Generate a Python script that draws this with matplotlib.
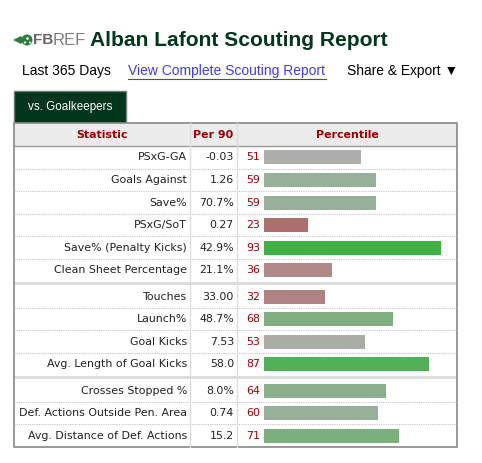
import matplotlib
matplotlib.use("Agg")
import matplotlib.pyplot as plt
from matplotlib.patches import Rectangle, Polygon, Circle

# data
player = "Alban Lafont"
groups = [
    ["PSxG-GA", "Goals Against", "Save%", "PSxG/SoT",
     "Save% (Penalty Kicks)", "Clean Sheet Percentage"],
    ["Touches", "Launch%", "Goal Kicks", "Avg. Length of Goal Kicks"],
    ["Crosses Stopped %", "Def. Actions Outside Pen. Area",
     "Avg. Distance of Def. Actions"],
]
per90 = ["-0.03", "1.26", "70.7%", "0.27", "42.9%", "21.1%",
         "33.00", "48.7%", "7.53", "58.0",
         "8.0%", "0.74", "15.2"]
percentiles = [51, 59, 59, 23, 93, 36,
               32, 68, 53, 87,
               64, 60, 71]
bar_colors = ["#aeafab", "#98b09a", "#98b09a", "#ad6e6e", "#42b045", "#af8a89",
              "#af8381", "#80b082", "#a8aea6", "#52b056",
              "#8caf8c", "#98b099", "#7bb07c"]

W, H = 482, 463
DARK_GREEN = "#00361c"
RED = "#990000"
TXT = "#222222"
FS = 7.9

fig = plt.figure(figsize=(W / 100, H / 100), dpi=100)
ax = fig.add_axes([0, 0, 1, 1])
ax.set_xlim(0, W)
ax.set_ylim(H, 0)
ax.axis("off")

# header: logo + title
ax.add_patch(Polygon([[13, 40], [21, 36], [24, 40], [21, 44]],
                     closed=True, color="#2f7d3c", lw=0))
ax.add_patch(Circle((27, 40), 5.5, color="#2f7d3c", lw=0))
ax.add_patch(Circle((27.5, 38.5), 1.4, color="white", lw=0))
ax.add_patch(Circle((25, 42.5), 1.1, color="white", lw=0))
ax.add_patch(Circle((30, 42.5), 1.0, color="white", lw=0))
ax.text(33.5, 40.5, "FB", fontsize=11, fontweight="bold", color="#666666",
        va="center", ha="left", family="Liberation Sans")
ax.text(53, 40.5, "REF", fontsize=12, color="#808080",
        va="center", ha="left", family="Liberation Sans")
ax.text(90, 40, f"{player} Scouting Report", fontsize=15.1, fontweight="bold",
        color=DARK_GREEN, va="center", ha="left", family="Liberation Sans")

# sub line
ax.text(22, 71, "Last 365 Days", fontsize=10, color="black", va="center",
        family="Liberation Sans")
ax.text(128, 71, "View Complete Scouting Report", fontsize=10, color="#4040d8",
        va="center", family="Liberation Sans")
ax.plot([128, 326], [78.5, 78.5], color="#4040d8", lw=0.8)
ax.text(347, 71, "Share & Export \u25bc", fontsize=9.9, color="black",
        va="center", family="Liberation Sans")

# tab
ax.add_patch(Rectangle((14, 91), 112, 32, facecolor=DARK_GREEN,
                       edgecolor="#777777", lw=1))
ax.text(70, 107, "vs. Goalkeepers", fontsize=8.4, color="white",
        ha="center", va="center", family="Liberation Sans")

# table geometry
x0, x1, x2, x3 = 14, 190, 237, 457
head_top, head_bot = 123, 146
row_h, sep_h = 22.6, 3.6

ax.add_patch(Rectangle((x0, head_top), x3 - x0, head_bot - head_top,
                       facecolor="#ececec", lw=0))
ax.text((x0 + x1) / 2, 134.5, "Statistic", fontsize=FS, fontweight="bold",
        color=RED, ha="center", va="center")
ax.text((x1 + x2) / 2, 134.5, "Per 90", fontsize=FS, fontweight="bold",
        color=RED, ha="center", va="center")
ax.text((x2 + x3) / 2, 134.5, "Percentile", fontsize=FS, fontweight="bold",
        color=RED, ha="center", va="center")
ax.plot([x0, x3], [head_bot, head_bot], color="#999999", lw=1)

centers = []
y = head_bot
for gi, names in enumerate(groups):
    if gi > 0:
        ax.add_patch(Rectangle((x0, y), x3 - x0, sep_h, facecolor="#dddddd", lw=0))
        y += sep_h
    for ri in range(len(names)):
        centers.append(y + row_h / 2)
        y += row_h
        if ri < len(names) - 1:
            ax.plot([x0, x3], [y, y], color="#c4c4c4", lw=0.8, ls=(0, (1, 1)))
table_bot = y

labels = [n for g in groups for n in g]
for i, c in enumerate(centers):
    ax.text(187, c, labels[i], fontsize=FS, color=TXT, ha="right", va="center")
    ax.text(234, c, per90[i], fontsize=FS, color=TXT, ha="right", va="center")
    ax.text(260, c, str(percentiles[i]), fontsize=FS, color=RED,
            ha="right", va="center")

# column rules and outer border
for xv in (x1, x2):
    ax.plot([xv, xv], [head_top, table_bot], color="#dddddd", lw=1)
ax.add_patch(Rectangle((x0, head_top), x3 - x0, table_bot - head_top,
                       fill=False, edgecolor="#888888", lw=1.2))

# percentile bars on their own 0-100 scale
bx = fig.add_axes([264 / W, 0, 190 / W, 1])
bx.set_xlim(0, 100)
bx.set_ylim(H, 0)
bx.axis("off")
bx.patch.set_alpha(0)
bx.barh(centers, percentiles, height=14, color=bar_colors, left=0)

fig.savefig("out.png", dpi=100)
